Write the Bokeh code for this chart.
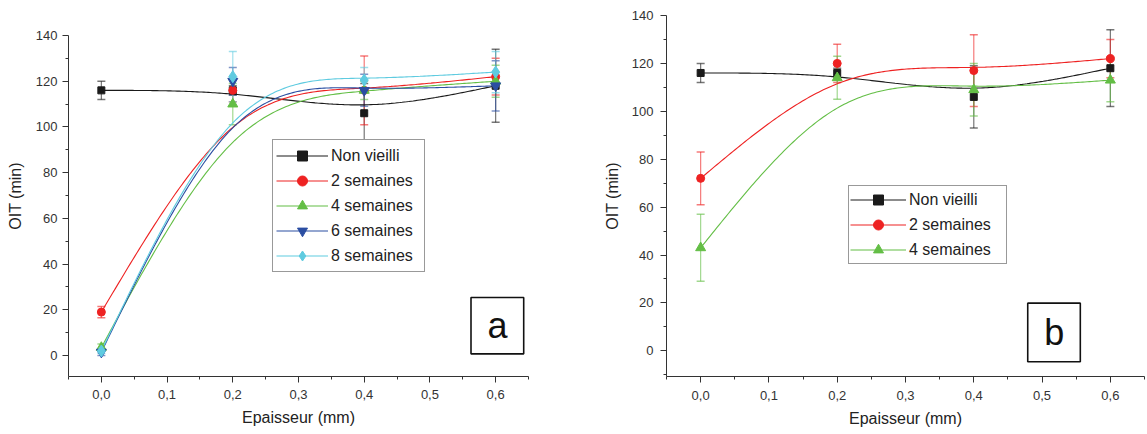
import numpy as np
from bokeh.plotting import figure
from bokeh.layouts import row
from bokeh.models import (Whisker, TeeHead, ColumnDataSource, Legend, LegendItem,
                          BoxAnnotation, Label, FixedTicker, CustomJSTickFormatter, Range1d)
from bokeh.embed import file_html
from bokeh.resources import INLINE

# ---------------- data ----------------
thickness = [0.0, 0.2, 0.4, 0.6]

a_non = [116, 116, 106, 118]
a_non_err = [4, 2, 13, 16]
a_2s = [19, 116, 116, 122]
a_2s_err = [2.5, 5, 15, 8]
a_4s = [3.5, 110, 116, 120]
a_4s_err = [1.5, 9, 4, 7]
a_6s = [1.5, 120, 116, 118]
a_6s_err = [1.5, 6, 7, 11]
a_8s = [2, 122, 120.5, 124]
a_8s_err = [1, 11, 5.5, 9]

b_non = [116, 116, 106, 118]
b_non_err = [4, 2, 13, 16]
b_2s = [72, 120, 117, 122]
b_2s_err = [11, 8, 15, 8]
b_4s = [43, 114, 109, 113]
b_4s_err = [14, 9, 11, 9]

x_ticks = [0.0, 0.1, 0.2, 0.3, 0.4, 0.5, 0.6]
x_minor = [-0.05, 0.05, 0.15, 0.25, 0.35, 0.45, 0.55, 0.65]
y_ticks = [0, 20, 40, 60, 80, 100, 120, 140]
y_minor = [-10, 10, 30, 50, 70, 90, 110, 130]

# ---------------- styles / layout ----------------
FONT = "Liberation Sans"
STYLE = {
    "Non vieilli": dict(color="#1a1a1a", marker="square", size=7),
    "2 semaines": dict(color="#ee2222", marker="circle", size=8),
    "4 semaines": dict(color="#63be45", marker="triangle", size=10),
    "6 semaines": dict(color="#2b4ea2", marker="inverted_triangle", size=10),
    "8 semaines": dict(color="#5fcbe0", marker="diamond", size=12),
}
FIG_H = 430
TOP_B = 15
FRAME_H = 361          # common frame height (frames are aligned in a row)
BOT_B = FIG_H - TOP_B - FRAME_H


def cubic_bspline(xs, ys, n=60):
    """Uniform cubic B-spline through the end points (reflected phantom points)."""
    P = np.column_stack([np.asarray(xs, float), np.asarray(ys, float)])
    Q = np.vstack([2 * P[0] - P[1], P, 2 * P[-1] - P[-2]])
    pts = []
    for i in range(len(Q) - 3):
        t = np.linspace(0, 1, n)[:, None]
        b0 = (1 - t) ** 3 / 6
        b1 = (3 * t ** 3 - 6 * t ** 2 + 4) / 6
        b2 = (-3 * t ** 3 + 3 * t ** 2 + 3 * t + 1) / 6
        b3 = t ** 3 / 6
        pts.append(b0 * Q[i] + b1 * Q[i + 1] + b2 * Q[i + 2] + b3 * Q[i + 3])
    pts = np.vstack(pts)
    return pts[:, 0], pts[:, 1]


def make_panel(series, width, mb_left, mb_right, y_start, y_end,
               tick_standoff, ylab_standoff, xtick_standoff, xlab_standoff):
    p = figure(width=width, height=FIG_H, output_backend="svg", toolbar_location=None,
               x_range=Range1d(-0.05, 0.65), y_range=Range1d(y_start, y_end),
               min_border_left=mb_left, min_border_right=mb_right,
               min_border_top=TOP_B, min_border_bottom=BOT_B)
    p.background_fill_color = "white"
    p.border_fill_color = "white"
    p.outline_line_color = None
    p.grid.visible = False

    p.xaxis.ticker = FixedTicker(ticks=x_ticks, minor_ticks=x_minor)
    p.yaxis.ticker = FixedTicker(ticks=y_ticks, minor_ticks=y_minor)
    p.yaxis.bounds = (y_start, 140)
    p.xaxis.formatter = CustomJSTickFormatter(code="return tick.toFixed(1).replace('.', ',');")
    for ax in (p.xaxis[0], p.yaxis[0]):
        ax.axis_line_color = "#333333"
        ax.major_tick_line_color = "#333333"
        ax.minor_tick_line_color = "#333333"
        ax.major_tick_in = 0
        ax.minor_tick_in = 0
        ax.major_tick_out = 6
        ax.minor_tick_out = 3
        ax.major_label_text_font = FONT
        ax.major_label_text_font_size = "13px"
        ax.major_label_text_color = "#333333"
        ax.axis_label_text_font = FONT
        ax.axis_label_text_font_size = "16px"
        ax.axis_label_text_font_style = "normal"
        ax.axis_label_text_color = "#222222"
    p.xaxis.axis_label = "Epaisseur (mm)"
    p.yaxis.axis_label = "OIT (min)"
    p.yaxis.major_label_standoff = tick_standoff
    p.yaxis.axis_label_standoff = ylab_standoff
    p.xaxis.major_label_standoff = xtick_standoff
    p.xaxis.axis_label_standoff = xlab_standoff

    items = []
    for name, ys, errs in series:
        st = STYLE[name]
        cx, cy = cubic_bspline(thickness, ys)
        lr = p.line(cx, cy, line_color=st["color"], line_width=1.1)
        items.append([name, lr, ys, errs, st])
    for name, lr, ys, errs, st in items:
        src = ColumnDataSource(dict(x=thickness, y=ys,
                                    lo=[v - e for v, e in zip(ys, errs)],
                                    hi=[v + e for v, e in zip(ys, errs)]))
        w = Whisker(base="x", upper="hi", lower="lo", dimension="height", source=src,
                    line_color=st["color"], line_alpha=0.6, line_width=1.2,
                    upper_head=TeeHead(size=8, line_color=st["color"], line_alpha=0.6, line_width=1.5),
                    lower_head=TeeHead(size=8, line_color=st["color"], line_alpha=0.6, line_width=1.5))
        p.add_layout(w)
    leg_items = []
    for name, lr, ys, errs, st in items:
        sr = p.scatter(thickness, ys, marker=st["marker"], size=st["size"],
                       fill_color=st["color"], line_color=st["color"])
        leg_items.append(LegendItem(label=name, renderers=[lr, sr]))
    return p, leg_items


# ---------- panel a ----------
# frame: 140 sits 20 px below the common frame top, scale 2.286 px / min
a_end = 140 + 20 / 2.286
a_start = a_end - FRAME_H / 2.286
series_a = [("Non vieilli", a_non, a_non_err), ("2 semaines", a_2s, a_2s_err),
            ("4 semaines", a_4s, a_4s_err), ("6 semaines", a_6s, a_6s_err),
            ("8 semaines", a_8s, a_8s_err)]
pa, items_a = make_panel(series_a, width=600, mb_left=68, mb_right=72,
                         y_start=a_start, y_end=a_end, tick_standoff=5, ylab_standoff=9,
                         xtick_standoff=7, xlab_standoff=7)
leg_a = Legend(items=items_a, location=(204, 104), margin=0, padding=3, spacing=-5,
               glyph_width=52, glyph_height=25, label_height=25, label_standoff=3,
               label_width=90,
               label_text_font=FONT, label_text_font_size="16px", label_text_color="#222222",
               border_line_color="#333333", border_line_width=1, background_fill_alpha=1)
pa.add_layout(leg_a)
pa.add_layout(BoxAnnotation(left=0.5625, right=0.6427, bottom=0.74, top=25.4,
                            fill_alpha=0, line_color="#111111", line_alpha=1, line_width=1.6))
pa.add_layout(Label(x=0.603, y=13.0, text="a", text_font=FONT, text_font_size="36px",
                    text_align="center", text_baseline="middle", text_color="#111111"))

# ---------- panel b ----------
b_end = 140.0
b_start = b_end - FRAME_H / 2.395
series_b = [("Non vieilli", b_non, b_non_err), ("2 semaines", b_2s, b_2s_err),
            ("4 semaines", b_4s, b_4s_err)]
pb, items_b = make_panel(series_b, width=545, mb_left=63, mb_right=1,
                         y_start=b_start, y_end=b_end, tick_standoff=7, ylab_standoff=8,
                         xtick_standoff=8, xlab_standoff=7)
leg_b = Legend(items=items_b, location=(182, 112), margin=0, padding=1, spacing=-2,
               glyph_width=56, glyph_height=25, label_height=25, label_standoff=3,
               label_width=96,
               label_text_font=FONT, label_text_font_size="16px", label_text_color="#222222",
               border_line_color="#333333", border_line_width=1, background_fill_alpha=1)
pb.add_layout(leg_b)
pb.add_layout(BoxAnnotation(left=0.479, right=0.556, bottom=-4.6, top=19.9,
                            fill_alpha=0, line_color="#111111", line_alpha=1, line_width=1.6))
pb.add_layout(Label(x=0.518, y=7.6, text="b", text_font=FONT, text_font_size="36px",
                    text_align="center", text_baseline="middle", text_color="#111111"))

layout = row(pa, pb, spacing=0)
open("out.html", "w").write(file_html(layout, INLINE))
